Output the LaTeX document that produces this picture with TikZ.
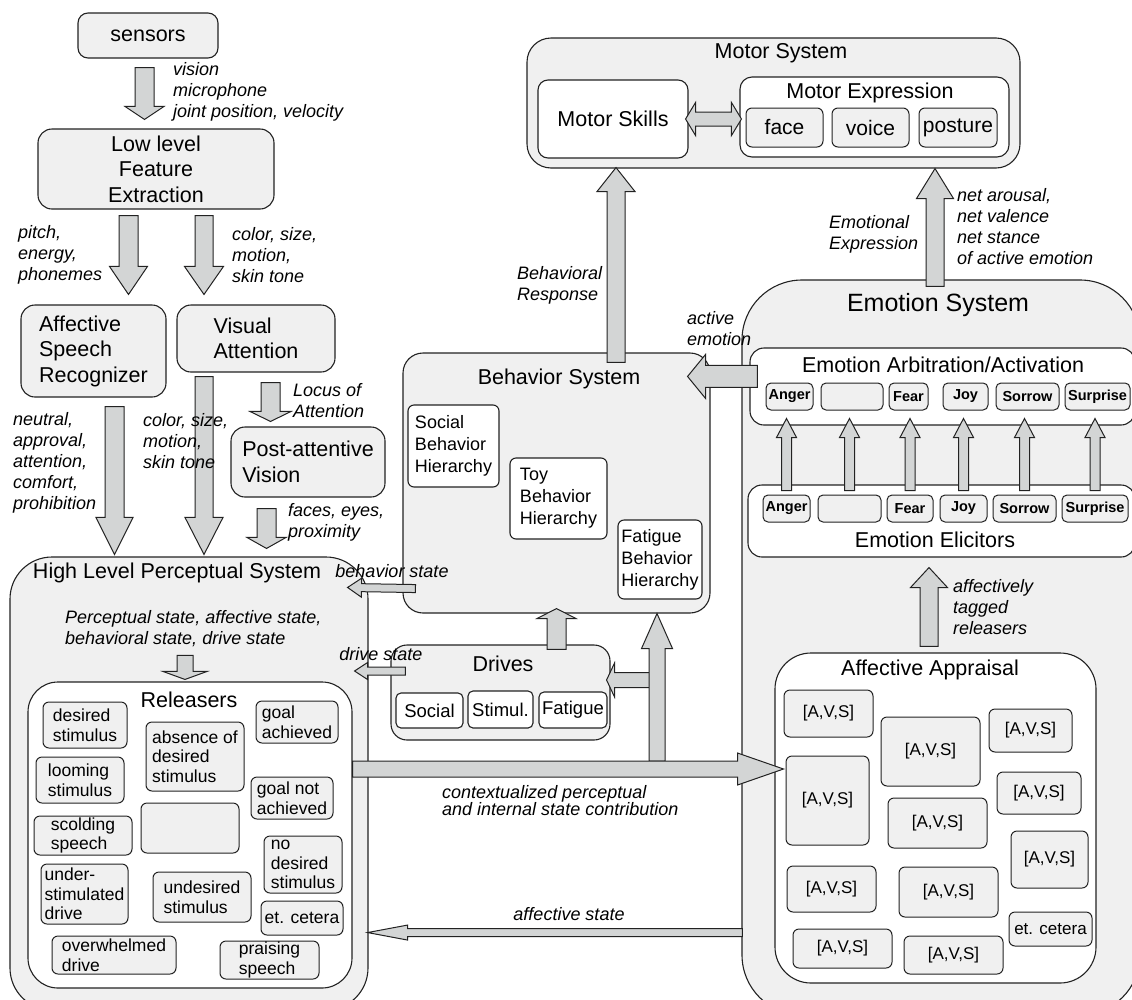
\documentclass[tikz,border=0pt]{standalone}
\usepackage{fontspec}
\setmainfont{Liberation Sans}
\usetikzlibrary{calc}

\definecolor{ink}{HTML}{222222}
\definecolor{panelgray}{HTML}{F0F0F0}
\definecolor{arrowgray}{HTML}{D3D5D5}

\newcommand\bigfont{\fontsize{21.5}{25.5}\selectfont}
\newcommand\labfont{\fontsize{18}{21}\selectfont\itshape}
\newcommand\itemfont{\fontsize{17.5}{19.5}\selectfont}
\newcommand\emofont{\fontsize{14.5}{16}\selectfont\bfseries}

% box given by its corners (pixel units)
\newcommand\boxat[7][]{%
  \node[#1, minimum width={(#5-#3)*1pt}, minimum height={(#6-#4)*1pt}]
    (#2) at ({(#3+#5)/2},{(#4+#6)/2}) {#7};}

% block arrow: start, tip, shaft half width, head half width, head length
\newcommand\barrow[5]{%
  \coordinate (ba-s) at (#1);
  \coordinate (ba-t) at (#2);
  \coordinate (ba-h) at ($(ba-t)!#5pt!(ba-s)$);
  \draw[blockarrow] ($(ba-s)!#3pt!90:(ba-t)$) -- ($(ba-h)!#3pt!90:(ba-t)$)
    -- ($(ba-h)!#4pt!90:(ba-t)$) -- (ba-t) -- ($(ba-h)!#4pt!-90:(ba-t)$)
    -- ($(ba-h)!#3pt!-90:(ba-t)$) -- ($(ba-s)!#3pt!-90:(ba-t)$) -- cycle;}

\tikzset{
  blockarrow/.style={draw=ink, fill=arrowgray, line width=1pt},
  sysbox/.style={draw=ink, fill=panelgray, line width=1.1pt, rounded corners=#1, inner sep=0pt},
  sysbox/.default=22pt,
  subbox/.style={draw=ink, fill=white, line width=1.1pt, rounded corners=#1, inner sep=0pt},
  subbox/.default=12pt,
  item/.style={draw=ink, fill=panelgray, line width=1pt, rounded corners=6pt, inner sep=0pt, align=left, font=\itemfont},
  avs/.style={item, font=\fontsize{17}{19}\selectfont},
  emo/.style={draw=ink, fill=panelgray, line width=1pt, rounded corners=5pt, inner sep=0pt, font=\emofont},
  title/.style={font=\bigfont, inner sep=0pt},
  lab/.style={font=\labfont, align=left, anchor=west, inner sep=0pt}
}

\begin{document}
\begin{tikzpicture}[x=1pt, y=-1pt]
\path[use as bounding box] (0,0) rectangle (1132,999);
\clip (0,0) rectangle (1132,999);

% Low level chain
\boxat[sysbox=10pt, font=\bigfont]{sensors}{78}{13}{218}{58}{sensors}
\boxat[sysbox=14pt, font=\bigfont, align=center]{lowlevel}{38}{129}{274}{209}{Low level\\Feature\\Extraction}
\boxat[sysbox=14pt, font=\bigfont, align=left]{asr}{21}{305}{166}{397}{Affective\\Speech\\Recognizer}
\boxat[sysbox=14pt, font=\bigfont, align=left]{visatt}{177}{305}{335}{372}{Visual\\Attention}
\boxat[sysbox=14pt, font=\bigfont, align=left]{postatt}{231}{427}{385}{497}{Post-attentive\\Vision}

% Systems
\boxat[sysbox=42pt]{hlps}{10}{557}{368}{1010}{}
\boxat[subbox=30pt]{releasers}{28}{682}{352}{988}{}
\boxat[sysbox=20pt]{behavior}{403}{353}{710}{613}{}
\boxat[sysbox=16pt]{drives}{391}{645}{610}{740}{}
\boxat[sysbox=24pt]{motor}{527}{38}{1020}{168}{}
\boxat[subbox=10pt, font=\bigfont]{skills}{538}{80}{688}{158}{Motor Skills}
\boxat[subbox=12pt]{motorexp}{740}{77}{1009}{157}{}
\boxat[sysbox=60pt]{emotion}{742}{280}{1140}{1015}{}
\boxat[subbox=14pt]{arbit}{750}{348}{1135}{425}{}
\boxat[subbox=14pt]{elicit}{748}{485}{1135}{557}{}
\boxat[subbox=36pt]{appraisal}{775}{653}{1096}{983}{}

% Titles
\node[title] (hlps-t) at (177,573) {High Level Perceptual System};
\node[title] (rel-t) at (189,700) {Releasers};
\node[title] (beh-t) at (559,379) {Behavior System};
\node[title] (drv-t) at (503,664) {Drives};
\node[title] (mot-t) at (781,53) {Motor System};
\node[title] (mex-t) at (870,93) {Motor Expression};
\node[title, font=\fontsize{25}{30}\selectfont] (emo-t) at (938,305) {Emotion System};
\node[title] (arb-t) at (943,365) {Emotion Arbitration/Activation};
\node[title] (eli-t) at (935,540) {Emotion Elicitors};
\node[title] (app-t) at (930,670) {Affective Appraisal};

% Releasers
\foreach \nm/\xa/\ya/\xb/\yb/\txt in {
  r1/43/702/127/748/{desired\\stimulus},
  r2/36/757/124/803/{looming\\stimulus},
  r3/34/816/132/855/{scolding\\speech},
  r4/41/864/128/924/{under-\\stimulated\\drive},
  r5/52/936/176/974/{overwhelmed\\drive},
  r6/146/722/244/791/{absence of\\desired\\stimulus},
  r7/141/803/239/853/{},
  r8/153/872/251/922/{undesired\\stimulus},
  r9/220/941/319/979/{praising\\speech},
  r10/256/701/338/743/{goal\\achieved},
  r11/251/777/333/819/{goal not\\achieved},
  r12/264/836/342/893/{no\\desired\\stimulus},
  r13/261/901/343/935/{et. cetera}}{
  \boxat[item]{\nm}{\xa}{\ya}{\xb}{\yb}{\txt}
}

% Behavior hierarchies and drives
\boxat[subbox=6pt, align=left, font=\fontsize{18}{22}\selectfont]{socbeh}{408}{405}{499}{487}{Social\\Behavior\\Hierarchy}
\boxat[subbox=6pt, align=left, font=\fontsize{18}{22}\selectfont]{toybeh}{510}{458}{607}{539}{Toy\\Behavior\\Hierarchy}
\boxat[subbox=6pt, align=left, font=\fontsize{18}{22}\selectfont]{fatbeh}{618}{520}{702}{599}{Fatigue\\Behavior\\Hierarchy}
\boxat[subbox=5pt, font=\fontsize{18.5}{22}\selectfont]{social}{396}{693}{463}{728}{Social}
\boxat[subbox=5pt, font=\fontsize{18.5}{22}\selectfont]{stimul}{468}{691}{533}{728}{Stimul.}
\boxat[subbox=5pt, font=\fontsize{18.5}{22}\selectfont]{fatigue}{539}{692}{607}{728}{Fatigue}

% Motor expression
\boxat[item, font=\fontsize{21}{25}\selectfont]{face}{746}{108}{823}{147}{face}
\boxat[item, font=\fontsize{21}{25}\selectfont]{voice}{832}{108}{909}{147}{voice}
\boxat[item, font=\fontsize{21}{25}\selectfont]{posture}{919}{108}{997}{147}{posture}

% Emotions
\foreach \i/\txt/\xa/\xb in {1/Anger/766/813, 2/{}/821/883, 3/Fear/889/928,
    4/Joy/943/988, 5/Sorrow/996/1059, 6/Surprise/1065/1130}{
  \boxat[emo]{a\i}{\xa}{383}{\xb}{410}{\txt}
}
\foreach \i/\txt/\xa/\xb in {1/Anger/763/810, 2/{}/818/881, 3/Fear/887/933,
    4/Joy/940/987, 5/Sorrow/993/1056, 6/Surprise/1062/1128}{
  \boxat[emo]{e\i}{\xa}{495}{\xb}{522}{\txt}
}

% Appraisals
\foreach \i/\xa/\ya/\xb/\yb in {1/784/690/873/737, 2/881/717/980/786, 3/989/709/1072/752,
    4/786/756/869/845, 5/888/798/987/848, 6/997/772/1081/814, 7/1011/831/1088/888,
    8/787/866/876/912, 9/899/867/998/917, 10/793/929/892/968, 11/904/936/1003/974}{
  \boxat[avs]{v\i}{\xa}{\ya}{\xb}{\yb}{[A,V,S]}
}
\boxat[avs]{v12}{1009}{912}{1092}{946}{et. cetera}

% Arrows
\barrow{[xshift=-3.5pt,yshift=-9pt]sensors.south}{[xshift=-11.5pt,yshift=9pt]lowlevel.north}{9.5}{19.5}{13}
\barrow{[xshift=-27.5pt,yshift=-6pt]lowlevel.south}{[xshift=35pt,yshift=10pt]asr.north}{9.5}{19}{28}
\barrow{[xshift=48pt,yshift=-6pt]lowlevel.south}{[xshift=-52pt,yshift=10pt]visatt.north}{9}{19.5}{28}
\barrow{[xshift=21pt,yshift=-9pt]asr.south}{[xshift=-74.5pt,yshift=2pt]hlps.north}{9.5}{18.5}{37}
\barrow{[xshift=-52pt,yshift=-4pt]visatt.south}{[xshift=15pt,yshift=2pt]hlps.north}{9}{19}{37}
\barrow{[xshift=14.5pt,yshift=-10pt]visatt.south}{[xshift=-37.5pt,yshift=5pt]postatt.north}{9.5}{20.5}{10}
\barrow{[xshift=-41.5pt,yshift=-11pt]postatt.south}{[xshift=77.5pt,yshift=8pt]hlps.north}{9.5}{19.5}{11}
\barrow{[xshift=-5pt,yshift=26pt]releasers.north}{[xshift=-5pt,yshift=2pt]releasers.north}{8}{22}{8}
\barrow{[xshift=13pt,yshift=25pt]behavior.south west}{[xshift=-21pt,yshift=-31pt]hlps.north east}{4}{9.5}{14}
\barrow{[xshift=15pt,yshift=21.5pt]drives.west}{[xshift=-14pt,yshift=112.5pt]hlps.east}{4}{8.5}{13}
\barrow{[xshift=8pt,yshift=-29pt]arbit.north west}{[xshift=-23pt,yshift=-24pt]behavior.north east}{11}{22}{18}
\barrow{[xshift=59.5pt,yshift=-10pt]behavior.north}{[xshift=3pt,yshift=-9pt]skills.south}{9}{19}{24}
\barrow{[xshift=-6pt,yshift=-7pt]emotion.north}{[xshift=161.5pt]motor.south}{9}{18.5}{30}
\foreach \i in {1,...,6}{
  \coordinate (t\i) at (e\i.north |- a\i.south);
  \barrow{[yshift=4pt]e\i.north}{[yshift=-8pt]t\i}{5}{10}{19}
}
\barrow{[xshift=-6.5pt,yshift=6pt]appraisal.north}{[xshift=-12.5pt,yshift=-10pt]elicit.south}{9}{18.5}{20}
\coordinate (branch) at (657,761);
\barrow{[xshift=-2pt,yshift=81pt]branch}{[xshift=-4pt,yshift=12.5pt]drives.east}{7.5}{17}{8}
\barrow{branch}{[xshift=100.5pt]behavior.south}{8}{15.5}{35}
\barrow{[yshift=66pt]releasers.east}{[xshift=-2pt,yshift=31.5pt]v4.west}{8}{16}{46}
\barrow{[xshift=56pt,yshift=-5pt]drives.north}{[yshift=5pt]behavior.south}{9.5}{19.5}{10}
\barrow{[xshift=1pt,yshift=83pt]emotion.south west}{[xshift=-1pt,yshift=78pt]hlps.south east}{4}{7.5}{40}
% Motor Skills <-> Motor Expression
\coordinate (dl) at ([xshift=-3pt]skills.east);
\coordinate (dr) at ([xshift=2pt,yshift=-2pt]motorexp.west);
\draw[blockarrow] (dl) -- ++(10,-16.5) -- ++(0,9.5) -- ($(dr)+(-10,-7)$) -- ++(0,-9.5)
  -- (dr) -- ++(-10,16.5) -- ++(0,-9.5) -- ($(dl)+(10,7)$) -- ++(0,9.5) -- cycle;

% Labels
\node[lab] (l-sens) at (173,92) {vision\\microphone\\joint position, velocity};
\node[lab] (l-pitch) at (18,255) {pitch,\\energy,\\phonemes};
\node[lab] (l-col1) at (232,255) {color, size,\\motion,\\skin tone};
\node[lab] (l-asr) at (13,463) {neutral,\\approval,\\attention,\\comfort,\\prohibition};
\node[lab] (l-col2) at (143,441) {color, size,\\motion,\\skin tone};
\node[lab] (l-locus) at (293,401) {Locus of\\Attention};
\node[lab] (l-faces) at (288,522) {faces, eyes,\\proximity};
\node[lab, anchor=center] (l-bstate) at (392,571) {behavior state};
\node[lab, anchor=center] (l-dstate) at (381,654) {drive state};
\node[lab] (l-pstate) at (65,629) {Perceptual state, affective state,\\behavioral state, drive state};
\node[lab] (l-bresp) at (517,285) {Behavioral\\Response};
\node[lab] (l-active) at (687,329) {active\\emotion};
\node[lab] (l-emexp) at (829,234) {Emotional\\Expression};
\node[lab] (l-net) at (957,227) {net arousal,\\net valence\\net stance\\of active emotion};
\node[lab] (l-tagged) at (953,607) {affectively\\tagged\\releasers};
\node[lab, font=\fontsize{18}{17}\selectfont\itshape] (l-context) at (442,800.5) {contextualized perceptual\\and internal state contribution};
\node[lab, anchor=center] (l-astate) at (569,914) {affective state};
\end{tikzpicture}
\end{document}
